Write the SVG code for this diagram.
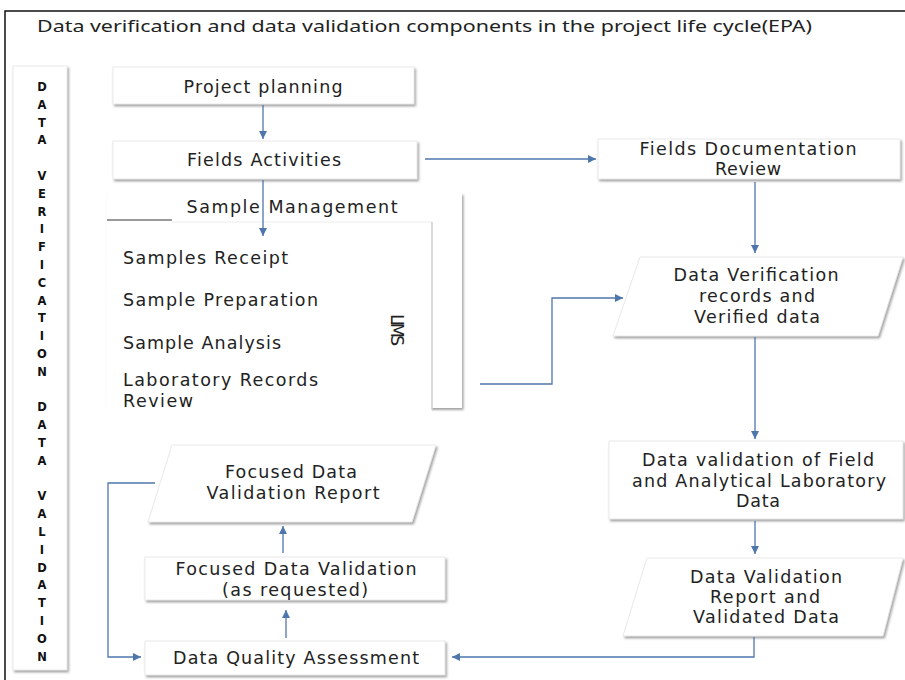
<svg xmlns="http://www.w3.org/2000/svg" width="905" height="680" viewBox="0 0 905 680">
<defs>
<style>
.t{font-family:"DejaVu Sans",sans-serif;font-size:17.5px;fill:#222;text-anchor:middle}
.tl{font-family:"DejaVu Sans",sans-serif;font-size:17.5px;fill:#222}
.ti{font-family:"Noto Sans","DejaVu Sans",sans-serif;font-size:17px;fill:#222}
.v{font-family:"DejaVu Sans",sans-serif;font-size:11.5px;font-weight:bold;fill:#111;text-anchor:middle}
.box{fill:#fff;stroke:#e4e4e4;stroke-width:0.8;filter:url(#sh)}
.ca{fill:none;stroke:#4f76ab;stroke-width:1.3;marker-end:url(#ah)}
</style>
<filter id="sh" x="-5%" y="-10%" width="112%" height="130%">
<feDropShadow dx="1.5" dy="2" stdDeviation="1" flood-color="#666" flood-opacity="0.6"/>
</filter>
<marker id="ah" viewBox="0 0 10 10" refX="10" refY="5" markerWidth="8" markerHeight="8" markerUnits="userSpaceOnUse" orient="auto">
<path d="M0,0 L10,5 L0,10 z" fill="#4f76ab"/>
</marker>
</defs>
<rect width="905" height="680" fill="#fff"/>
<path d="M5,680 V11 H905" fill="none" stroke="#111" stroke-width="1.5"/>
<text class="ti" x="37" y="32" textLength="775" lengthAdjust="spacingAndGlyphs">Data verification and data validation components in the project life cycle(EPA)</text>

<g id="banner">
<rect class="box" x="13" y="66" width="54" height="604"/>
<text class="v" x="42" y="91">D</text>
<text class="v" x="42" y="109">A</text>
<text class="v" x="42" y="127">T</text>
<text class="v" x="42" y="144">A</text>
<text class="v" x="42" y="180">V</text>
<text class="v" x="42" y="198">E</text>
<text class="v" x="42" y="216">R</text>
<text class="v" x="42" y="233">I</text>
<text class="v" x="42" y="251">F</text>
<text class="v" x="42" y="269">I</text>
<text class="v" x="42" y="287">C</text>
<text class="v" x="42" y="305">A</text>
<text class="v" x="42" y="322">T</text>
<text class="v" x="42" y="340">I</text>
<text class="v" x="42" y="358">O</text>
<text class="v" x="42" y="376">N</text>
<text class="v" x="42" y="411">D</text>
<text class="v" x="42" y="429">A</text>
<text class="v" x="42" y="447">T</text>
<text class="v" x="42" y="465">A</text>
<text class="v" x="42" y="500">V</text>
<text class="v" x="42" y="518">A</text>
<text class="v" x="42" y="536">L</text>
<text class="v" x="42" y="554">I</text>
<text class="v" x="42" y="572">D</text>
<text class="v" x="42" y="589">A</text>
<text class="v" x="42" y="607">T</text>
<text class="v" x="42" y="625">I</text>
<text class="v" x="42" y="643">O</text>
<text class="v" x="42" y="661">N</text>
</g>

<g id="project-planning">
<rect class="box" x="113" y="67" width="301" height="37"/>
<text class="t" x="263" y="93" textLength="159">Project planning</text>
</g>

<g id="fields-activities">
<rect class="box" x="113" y="141" width="304" height="38"/>
<text class="t" x="264" y="166" textLength="154">Fields Activities</text>
</g>

<g id="sample-management">
<rect x="107" y="193" width="355" height="215" fill="#fff" filter="url(#sh)"/>
<line x1="107" y1="220" x2="172" y2="220" stroke="#9a9a9a" stroke-width="2"/>
<rect x="107" y="222" width="325" height="190" fill="#fff"/>
<line x1="172" y1="222" x2="432" y2="222" stroke="#ececec" stroke-width="1"/>
<line x1="432" y1="222" x2="432" y2="410" stroke="#cfcfcf" stroke-width="1.5"/>
<text class="t" x="292" y="213" textLength="211">Sample Management</text>
<text class="tl" x="123" y="264" textLength="165">Samples Receipt</text>
<text class="tl" x="123" y="306" textLength="195">Sample Preparation</text>
<text class="tl" x="123" y="349" textLength="158">Sample Analysis</text>
<text class="tl" x="123" y="386" textLength="195">Laboratory Records</text>
<text class="tl" x="123" y="407" textLength="70">Review</text>
<text class="t" x="0" y="0" font-size="17" textLength="32" transform="translate(391,330) rotate(90)">LIMS</text>
</g>

<g id="fields-documentation-review">
<rect class="box" x="598" y="139" width="302" height="40"/>
<text class="t" x="748" y="155" textLength="217">Fields Documentation</text>
<text class="t" x="748" y="175" textLength="66">Review</text>
</g>

<g id="data-verification-records">
<polygon class="box" points="640,257 903,257 878,336 613,336"/>
<text class="t" x="756" y="281" textLength="165">Data Verification</text>
<text class="t" x="757" y="302" textLength="116">records and</text>
<text class="t" x="757" y="323" textLength="126">Verified data</text>
</g>

<g id="data-validation">
<rect class="box" x="609" y="441" width="294" height="78"/>
<text class="t" x="758" y="466" textLength="232">Data validation of Field</text>
<text class="t" x="759" y="487" textLength="254">and Analytical Laboratory</text>
<text class="t" x="758" y="507" textLength="44">Data</text>
</g>

<g id="data-validation-report">
<polygon class="box" points="647,558 903,558 883,636 623,636"/>
<text class="t" x="766" y="583" textLength="152">Data Validation</text>
<text class="t" x="765" y="603" textLength="110">Report and</text>
<text class="t" x="766" y="623" textLength="146">Validated Data</text>
</g>

<g id="focused-data-validation-report">
<polygon class="box" points="172,445 436,445 412,522 148,522"/>
<text class="t" x="291" y="478" textLength="132">Focused Data</text>
<text class="t" x="293" y="499" textLength="173">Validation Report</text>
</g>

<g id="focused-data-validation">
<rect class="box" x="145" y="557" width="300" height="43"/>
<text class="t" x="296" y="575" textLength="241">Focused Data Validation</text>
<text class="t" x="295" y="596" textLength="146">(as requested)</text>
</g>

<g id="data-quality-assessment">
<rect class="box" x="145" y="641" width="300" height="34"/>
<text class="t" x="296" y="664" textLength="246">Data Quality Assessment</text>
</g>

<g id="connectors">
<path class="ca" d="M263,105 V139"/>
<path class="ca" d="M263,180 V236"/>
<path class="ca" d="M425,159 H596"/>
<path class="ca" d="M755,182 V253"/>
<path class="ca" d="M480,384 H552 V298 H623"/>
<path class="ca" d="M755,337 V439"/>
<path class="ca" d="M755,521 V554"/>
<path class="ca" d="M754,637 V657 H452"/>
<path class="ca" d="M286,638 V610"/>
<path class="ca" d="M283,553 V526"/>
<path class="ca" d="M155,483 H108 V657 H141"/>
</g>
</svg>
